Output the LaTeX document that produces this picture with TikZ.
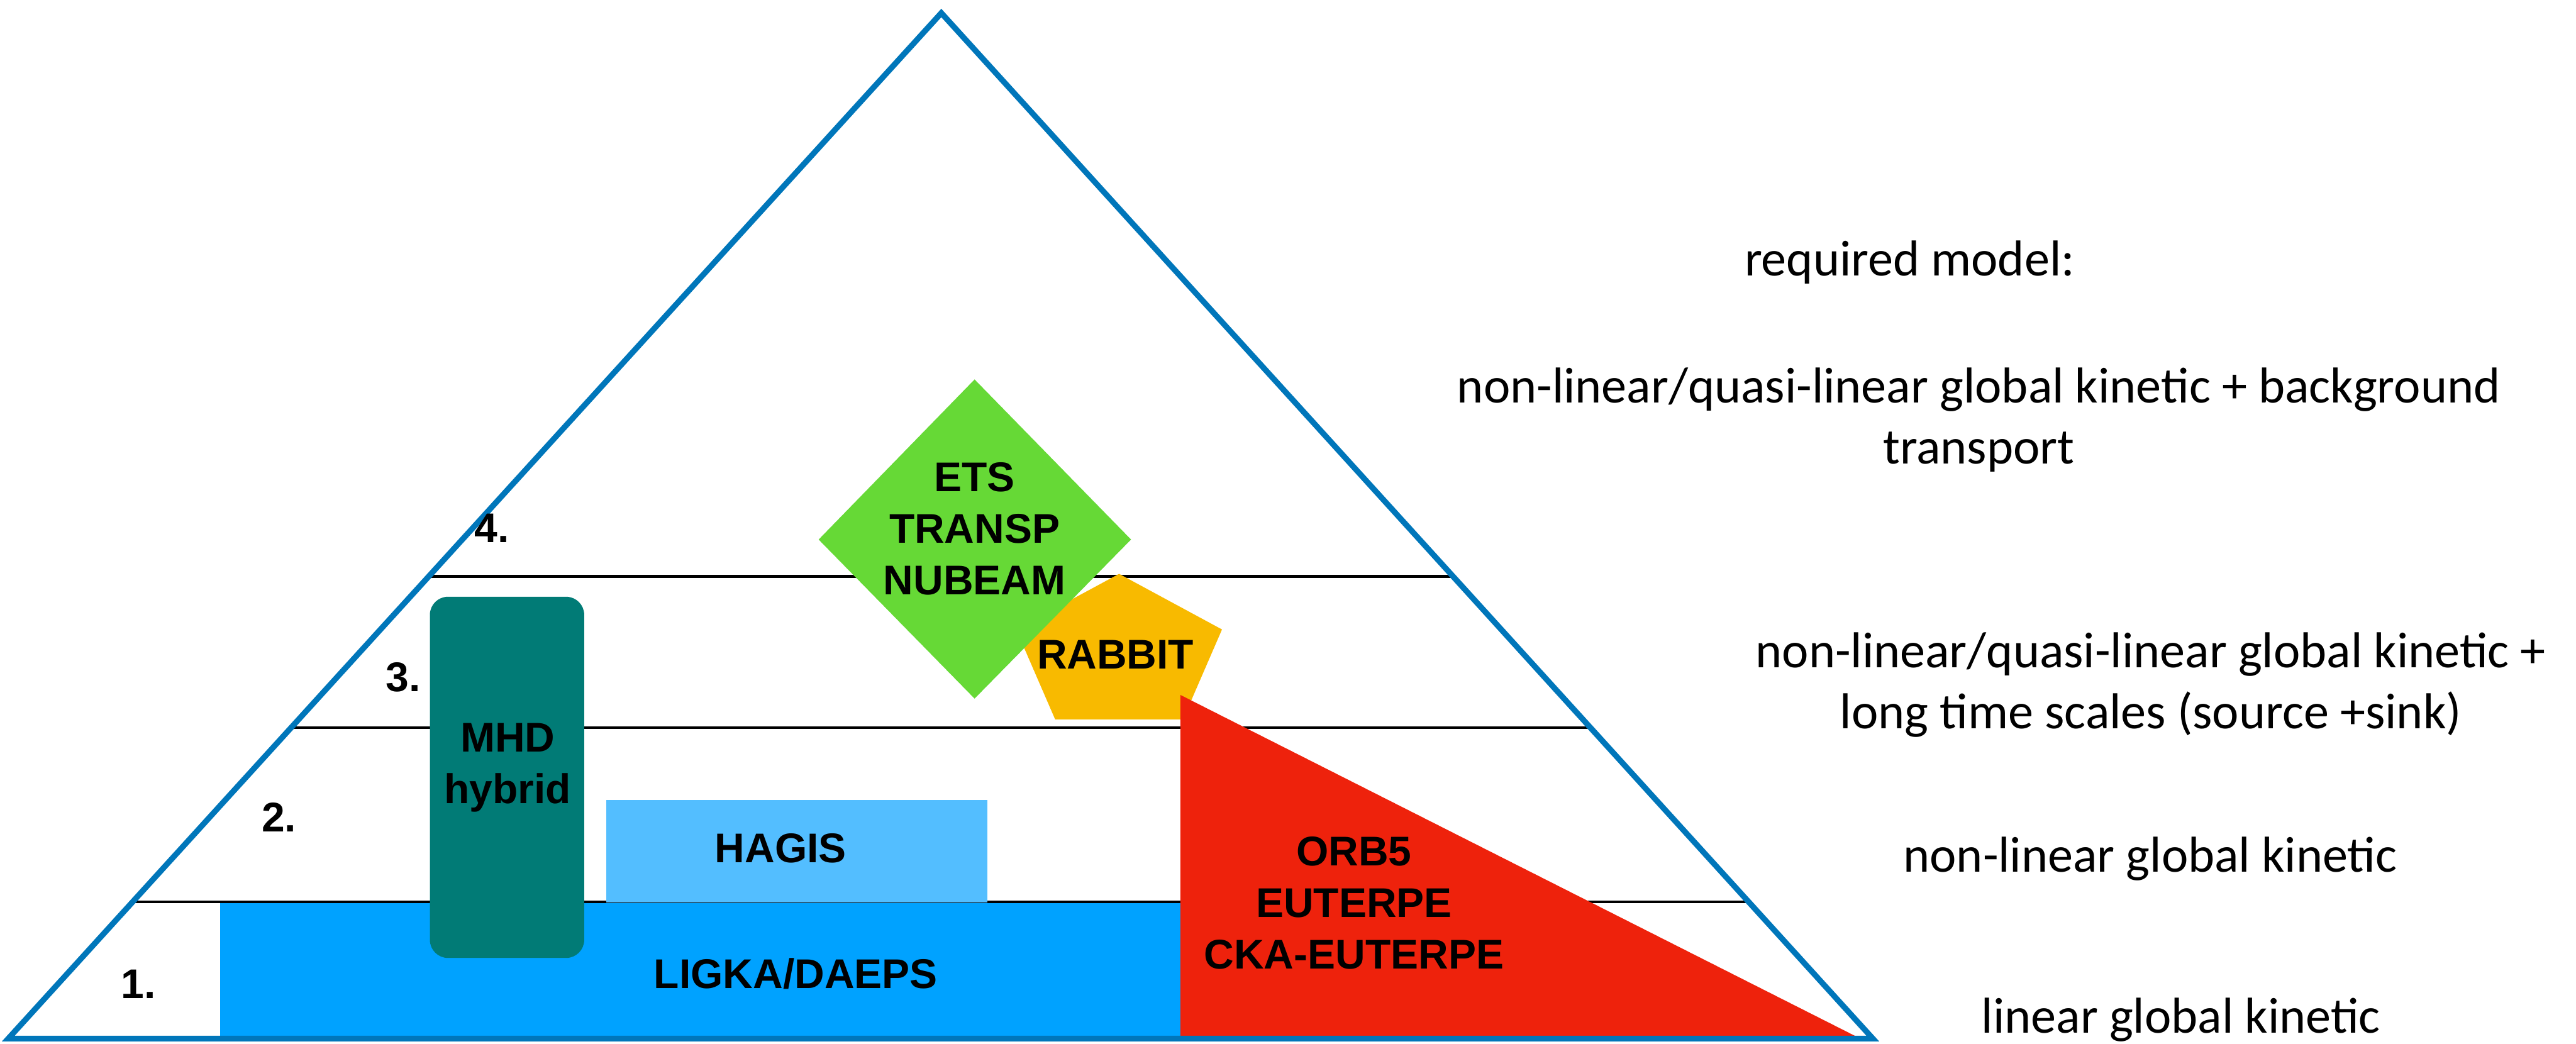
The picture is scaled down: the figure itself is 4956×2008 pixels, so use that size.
\documentclass[tikz,border=0pt]{standalone}
\usepackage{fontspec}
\setmainfont{Carlito}
\newfontfamily\codefont{Liberation Sans}
\usetikzlibrary{calc}

\definecolor{pyramidblue}{HTML}{0076BA}
\definecolor{etsgreen}{HTML}{66D936}
\definecolor{rabbitgold}{HTML}{F8BA00}
\definecolor{orbred}{HTML}{EE220C}
\definecolor{mhdteal}{HTML}{017B76}
\definecolor{hagisblue}{HTML}{53BEFF}
\definecolor{ligkablue}{HTML}{00A2FF}

\tikzset{
  codelabel/.style={font=\codefont\bfseries\fontsize{22.7}{28.2}\selectfont,
    align=center, inner sep=0pt, anchor=base, text=black},
  levelno/.style={font=\codefont\bfseries\fontsize{22.7}{28.2}\selectfont,
    inner sep=0pt, anchor=base},
  modelnote/.style={font=\fontsize{27.6}{33.3}\selectfont,
    align=center, inner sep=0pt, anchor=base},
  levelline/.style={draw=black, line width=0.05cm},
  pyramid/.style={draw=pyramidblue, line width=0.11cm, line join=miter},
}

\begin{document}
\begin{tikzpicture}[x=0.01cm, y=-0.01cm]
  \useasboundingbox (0,0) rectangle (4956,2008);

  % corners of the pyramid
  \coordinate (apex) at (1811,25);
  \coordinate (bl) at (16,1998);
  \coordinate (br) at (3603,1998);

  % level boundaries, drawn between the two slanted sides
  \draw[levelline] ($(bl)!0.4506!(apex)$) coordinate (l34w) -- ($(br)!0.4506!(apex)$) coordinate (l34e);
  \draw[levelline] ($(bl)!0.3031!(apex)$) coordinate (l23w) -- ($(br)!0.3031!(apex)$) coordinate (l23e);
  \draw[levelline] ($(bl)!0.1333!(apex)$) coordinate (l12w) -- ($(br)!0.1333!(apex)$) coordinate (l12e);

  % code blocks
  \fill[ligkablue] (424,1737) rectangle (2271,1996);
  \fill[hagisblue] (1166,1539) rectangle (1900,1736);
  \fill[mhdteal, rounded corners=0.35cm] (827,1148) rectangle (1124,1843);
  \fill[rabbitgold] (2153,1104) -- (2351,1211) -- (2276,1384) -- (2030,1384) -- (1955,1211) -- cycle;
  \fill[orbred] (2271,1337) -- (3575,1996) -- (2271,1996) -- cycle;
  \fill[etsgreen] (1875,730) -- (2176,1038) -- (1875,1344) -- (1575,1038) -- cycle;

  % pyramid outline
  \draw[pyramid] (apex) -- (br) -- (bl) -- cycle;

  % code names (multi-line labels are placed by the baseline of their last line)
  \node[codelabel] (ets) at (1875,1144) {ETS\\TRANSP\\NUBEAM};
  \node[codelabel] (rabbit) at (2146,1287) {RABBIT};
  \node[codelabel] (mhd) at (977,1546) {MHD\\hybrid};
  \node[codelabel] (hagis) at (1502,1659) {HAGIS};
  \node[codelabel] (ligka) at (1531,1902) {LIGKA/DAEPS};
  \node[codelabel] (orb) at (2605,1864) {ORB5\\EUTERPE\\CKA-EUTERPE};

  % level numbers
  \node[levelno] (n4) at (946,1043) {4.};
  \node[levelno] (n3) at (776,1330) {3.};
  \node[levelno] (n2) at (537,1600) {2.};
  \node[levelno] (n1) at (266,1921) {1.};

  % required models per level
  \node[modelnote] (req) at (3674,531) {required model:};
  \node[modelnote] (m4) at (3807,892) {non-linear/quasi-linear global kinetic + background\\transport};
  \node[modelnote] (m3) at (4138,1402) {non-linear/quasi-linear global kinetic +\\long time scales (source +sink)};
  \node[modelnote] (m2) at (4137,1677) {non-linear global kinetic};
  \node[modelnote] (m1) at (4196,1987) {linear global kinetic};
\end{tikzpicture}
\end{document}
